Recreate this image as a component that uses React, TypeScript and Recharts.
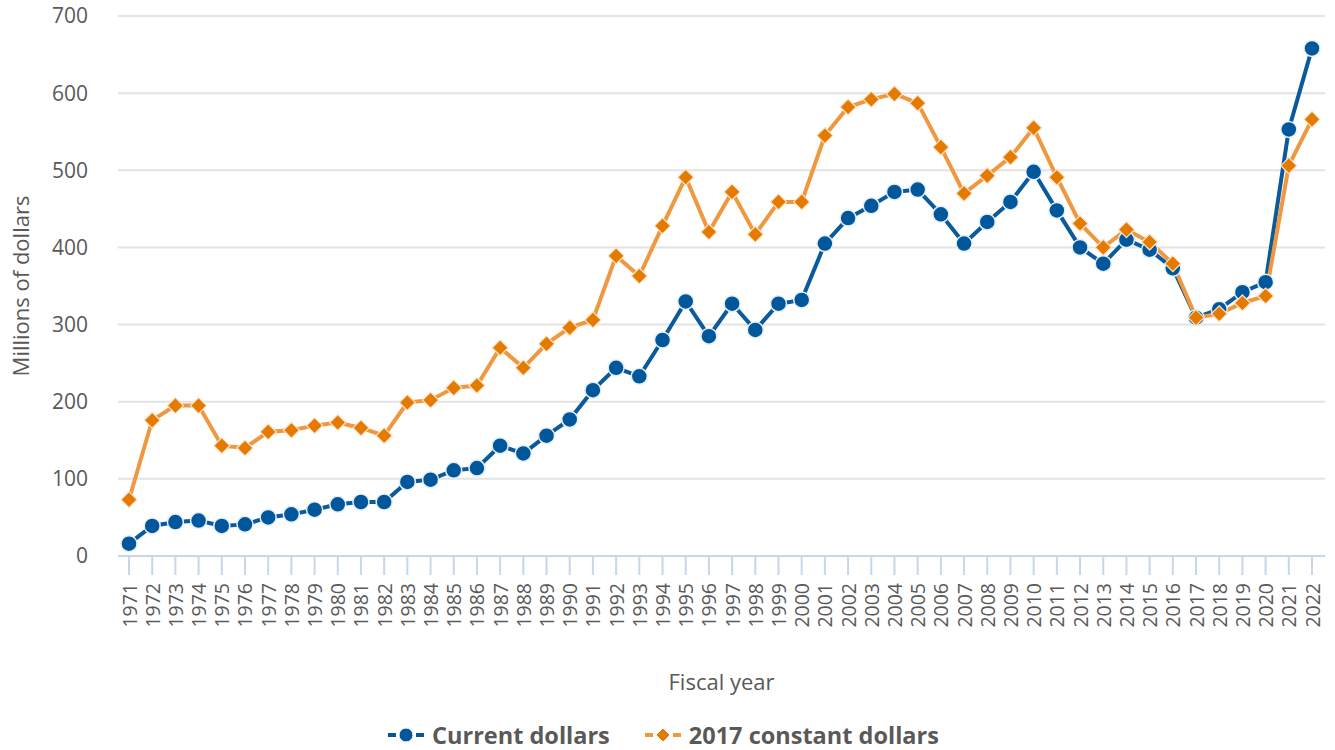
import { LineChart, Line, XAxis, YAxis, CartesianGrid, Legend } from 'recharts';

const years = [
  '1971', '1972', '1973', '1974', '1975', '1976', '1977', '1978', '1979', '1980',
  '1981', '1982', '1983', '1984', '1985', '1986', '1987', '1988', '1989', '1990',
  '1991', '1992', '1993', '1994', '1995', '1996', '1997', '1998', '1999', '2000',
  '2001', '2002', '2003', '2004', '2005', '2006', '2007', '2008', '2009', '2010',
  '2011', '2012', '2013', '2014', '2015', '2016', '2017', '2018', '2019', '2020',
  '2021', '2022',
];

const currentDollars = [
  16, 39, 44, 46, 39, 41, 50, 54, 60, 67,
  70, 70, 96, 99, 111, 114, 143, 133, 156, 177,
  215, 244, 233, 280, 330, 285, 327, 293, 327, 332,
  405, 438, 454, 472, 475, 443, 405, 433, 459, 498,
  448, 400, 379, 410, 397, 373, 309, 320, 342, 355,
  553, 658,
];

const constantDollars = [
  73, 176, 195, 195, 143, 140, 161, 163, 169, 173,
  166, 156, 199, 202, 218, 221, 270, 244, 275, 296,
  306, 389, 363, 428, 491, 420, 472, 417, 459, 459,
  545, 582, 592, 599, 587, 530, 470, 493, 517, 555,
  491, 431, 400, 423, 407, 379, 309, 314, 328, 337,
  506, 566,
];

const yTicks = [0, 100, 200, 300, 400, 500, 600, 700];

const data = years.map((year, i) => ({
  year,
  current: currentDollars[i],
  constant: constantDollars[i],
}));

const BLUE = '#00579c';
const BLUE_LINE = '#0a5a9c';
const ORANGE = '#e57a00';
const ORANGE_LINE = '#ef983f';
const TEXT = '#595959';
const FONT = '"Open Sans", sans-serif';

const YearTick = ({ x, y, payload }: any) => (
  <text
    transform={`translate(${x},${y}) rotate(-90)`}
    textAnchor="end"
    dominantBaseline="central"
    fill={TEXT}
    fontSize={19.5}
    fontFamily={FONT}
  >
    {payload.value}
  </text>
);

const Diamond = ({ cx, cy }: any) => {
  if (cx == null || cy == null) return null;
  const r = 8;
  return (
    <polygon
      points={`${cx},${cy - r} ${cx + r},${cy} ${cx},${cy + r} ${cx - r},${cy}`}
      fill={ORANGE}
      stroke="#fbe3c8"
      strokeWidth={1.2}
    />
  );
};

const LegendIcon = ({ kind }: { kind: 'circle' | 'diamond' }) => (
  <svg width={36} height={20} style={{ verticalAlign: 'middle', marginRight: 8 }}>
    <line x1={0} y1={10} x2={8} y2={10} stroke={kind === 'circle' ? BLUE : ORANGE_LINE} strokeWidth={4} />
    <line x1={28} y1={10} x2={36} y2={10} stroke={kind === 'circle' ? BLUE : ORANGE_LINE} strokeWidth={4} />
    {kind === 'circle' ? (
      <circle cx={18} cy={10} r={7} fill={BLUE} stroke="#fff" strokeWidth={1} />
    ) : (
      <polygon points="18,3 25,10 18,17 11,10" fill={ORANGE} stroke="#fff" strokeWidth={1} />
    )}
  </svg>
);

const renderLegend = () => (
  <div
    style={{
      display: 'flex',
      justifyContent: 'center',
      alignItems: 'center',
      fontFamily: FONT,
      fontWeight: 700,
      fontSize: 23.5,
      color: TEXT,
      marginTop: 13,
      paddingLeft: 2,
    }}
  >
    <span style={{ display: 'inline-flex', alignItems: 'center', marginRight: 35 }}>
      <LegendIcon kind="circle" />
      Current dollars
    </span>
    <span style={{ display: 'inline-flex', alignItems: 'center' }}>
      <LegendIcon kind="diamond" />
      2017 constant dollars
    </span>
  </div>
);

export default function App() {
  return (
    <div style={{ position: 'absolute', left: 0, top: 0, background: '#fff' }}>
      <LineChart
        width={1335}
        height={750}
        data={data}
        margin={{ top: 16, right: 10, left: 0, bottom: 0 }}
      >
        <CartesianGrid vertical={false} stroke="#e3e3e3" strokeWidth={2} />
        <XAxis
          dataKey="year"
          interval={0}
          height={150}
          padding={{ left: 11, right: 13 }}
          stroke="#c9d6ea"
          strokeWidth={2}
          tickSize={19}
          tickMargin={8}
          tick={<YearTick />}
          label={{
            value: 'Fiscal year',
            position: 'insideBottom',
            offset: 10,
            dy: -6,
            fill: TEXT,
            fontSize: 22,
            fontFamily: FONT,
          }}
        />
        <YAxis
          width={118}
          domain={[0, 700]}
          ticks={yTicks}
          axisLine={false}
          tickLine={false}
          tickSize={0}
          tickMargin={30}
          tick={{ fill: TEXT, fontSize: 21, fontFamily: FONT }}
          label={{
            value: 'Millions of dollars',
            angle: -90,
            position: 'insideLeft',
            offset: 21,
            style: { textAnchor: 'middle' },
            fill: TEXT,
            fontSize: 22,
            fontFamily: FONT,
          }}
        />
        <Legend verticalAlign="bottom" height={44} content={renderLegend} />
        <Line
          type="linear"
          dataKey="current"
          stroke={BLUE_LINE}
          strokeWidth={4}
          dot={{ r: 8, fill: BLUE, stroke: '#e6eef7', strokeWidth: 1.5 }}
          activeDot={false}
          isAnimationActive={false}
        />
        <Line
          type="linear"
          dataKey="constant"
          stroke={ORANGE_LINE}
          strokeWidth={4}
          dot={<Diamond />}
          activeDot={false}
          isAnimationActive={false}
        />
      </LineChart>
    </div>
  );
}
